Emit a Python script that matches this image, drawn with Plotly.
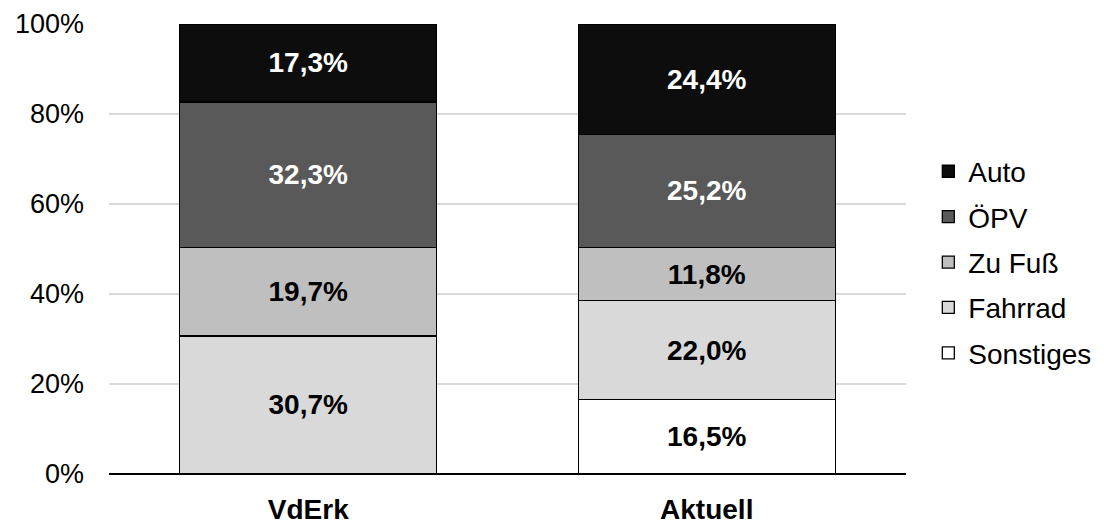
# modal split, stacked 100% bars
import plotly.graph_objects as go

categories = ["VdErk", "Aktuell"]

# shares in percent, bottom to top
sonstiges = [None, 16.5]
fahrrad = [30.7, 22.0]
zu_fuss = [19.7, 11.8]
oepv = [32.3, 25.2]
auto = [17.3, 24.4]

y_ticks = [0, 20, 40, 60, 80, 100]
y_labels = [f"{v}%" for v in y_ticks]

FONT = "Liberation Sans, Arial, sans-serif"

series = [
    ("Sonstiges", sonstiges, "#ffffff", "black"),
    ("Fahrrad", fahrrad, "#d9d9d9", "black"),
    ("Zu Fuß", zu_fuss, "#bfbfbf", "black"),
    ("ÖPV", oepv, "#595959", "white"),
    ("Auto", auto, "#0d0d0d", "white"),
]

fig = go.Figure()

for i, (name, vals, color, txtcolor) in enumerate(series):
    fig.add_trace(go.Bar(
        x=categories, y=vals, name=name,
        marker=dict(color=color, line=dict(color="black", width=1.3)),
        texttemplate="<b>%{y:.1f}%</b>",
        textposition="inside",
        insidetextanchor="middle",
        textangle=0,
        textfont=dict(family=FONT, size=28, color=txtcolor),
        legendgroup=name,
        legendrank=len(series) - i,
        hoverinfo="skip",
    ))

# page body has an 8px margin, margins below are set with that in mind
fig.update_layout(
    width=1104, height=523,
    barmode="stack",
    bargap=0.355,
    separators=",.",
    plot_bgcolor="white",
    paper_bgcolor="white",
    font=dict(family=FONT, size=27, color="black"),
    margin=dict(l=101, r=206, t=16, b=57, autoexpand=False),
    showlegend=True,
    legend=dict(
        traceorder="grouped",
        tracegroupgap=6,
        x=1.028, xanchor="left",
        y=0.471, yanchor="middle",
        font=dict(family=FONT, size=28, color="black"),
        bgcolor="rgba(0,0,0,0)",
    ),
    xaxis=dict(
        automargin=False,
        showgrid=False,
        showline=False,
        ticks="",
        tickfont=dict(family=FONT, size=28, color="black", weight="bold"),
        ticklabelstandoff=16,
    ),
    yaxis=dict(
        automargin=False,
        range=[0, 100],
        tickmode="array",
        tickvals=y_ticks,
        ticktext=y_labels,
        showgrid=True,
        gridcolor="#d9d9d9",
        gridwidth=1.5,
        zeroline=True,
        zerolinecolor="black",
        zerolinewidth=2,
        showline=False,
        ticks="",
        tickfont=dict(family=FONT, size=27, color="black"),
        ticklabelstandoff=24,
    ),
)

fig.write_html("out.html")
